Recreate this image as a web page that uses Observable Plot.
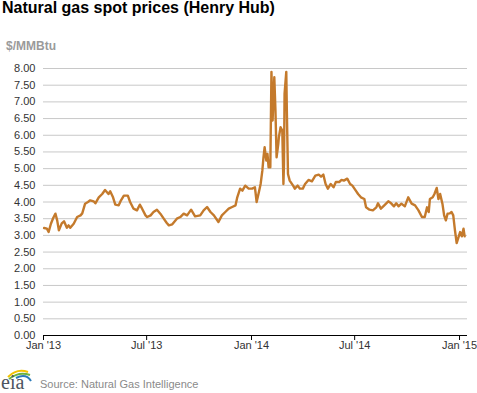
<!DOCTYPE html>
<html>
<head>
<meta charset="utf-8">
<script src="https://cdn.jsdelivr.net/npm/d3@7"></script>
<script src="https://cdn.jsdelivr.net/npm/@observablehq/plot@0.6"></script>
<style>
  html, body { margin: 0; padding: 0; background: #fff; }
  #wrap { position: relative; width: 477px; height: 393px; overflow: hidden; font-family: "Liberation Sans", Arial, sans-serif; }
  #title { position: absolute; left: 2px; top: 0px; font-size: 16px; line-height: 16px; font-weight: bold; color: #000; white-space: nowrap; }
  #units { position: absolute; left: 6px; top: 40px; font-size: 12px; line-height: 12px; font-weight: bold; color: #9a9a9a; }
  #chart { position: absolute; left: 0; top: 0; }
  #logo { position: absolute; left: 0; top: 366px; }
  #source { position: absolute; left: 40px; top: 379px; font-size: 11px; line-height: 11px; color: #8a8a8a; white-space: nowrap; }
</style>
</head>
<body>
<div id="wrap">
  <div id="chart"></div>
  <div id="title">Natural gas spot prices (Henry Hub)</div>
  <div id="units">$/MMBtu</div>
  <svg id="logo" width="36" height="27" viewBox="0 0 36 27">
    <path d="M8,11 Q17,2 28,6" fill="none" stroke="#f2c200" stroke-width="2"/>
    <path d="M9,13 Q19,5 30,9" fill="none" stroke="#6db33f" stroke-width="2"/>
    <path d="M16,12 Q26,7 31,15" fill="none" stroke="#2b7bb9" stroke-width="2"/>
    <text x="1" y="23" font-family="Liberation Serif, serif" font-size="20" fill="#4d5560">eia</text>
  </svg>
  <div id="source">Source: Natural Gas Intelligence</div>
</div>
<script>
const dates = [
  "2013-01-02","2013-01-07","2013-01-10","2013-01-14","2013-01-18","2013-01-22","2013-01-25","2013-01-28",
  "2013-02-02","2013-02-06","2013-02-11","2013-02-14","2013-02-17","2013-02-23",
  "2013-03-01","2013-03-07","2013-03-10","2013-03-15","2013-03-20","2013-03-24","2013-03-30",
  "2013-04-02","2013-04-08","2013-04-14","2013-04-19","2013-04-25","2013-04-28",
  "2013-05-03","2013-05-07","2013-05-13","2013-05-17","2013-05-22","2013-05-29",
  "2013-06-02","2013-06-08","2013-06-14","2013-06-19","2013-06-23","2013-06-29",
  "2013-07-02","2013-07-08","2013-07-13","2013-07-19","2013-07-25","2013-07-31",
  "2013-08-05","2013-08-09","2013-08-15","2013-08-23","2013-08-29",
  "2013-09-04","2013-09-10","2013-09-17","2013-09-24",
  "2013-10-03","2013-10-09","2013-10-15","2013-10-21","2013-10-27",
  "2013-11-04","2013-11-10","2013-11-16","2013-11-22","2013-11-28",
  "2013-12-04","2013-12-07","2013-12-12","2013-12-16","2013-12-21","2013-12-27",
  "2014-01-02","2014-01-07","2014-01-10","2014-01-14","2014-01-17","2014-01-20","2014-01-22","2014-01-24","2014-01-27","2014-01-29","2014-01-31",
  "2014-02-03","2014-02-05","2014-02-07","2014-02-10","2014-02-12","2014-02-14","2014-02-17","2014-02-18","2014-02-21","2014-02-24","2014-02-25","2014-02-26","2014-02-27","2014-02-28",
  "2014-03-03","2014-03-04","2014-03-06","2014-03-09","2014-03-15","2014-03-18","2014-03-23","2014-03-27",
  "2014-04-01","2014-04-05","2014-04-11","2014-04-17","2014-04-23","2014-04-29",
  "2014-05-03","2014-05-07","2014-05-11","2014-05-15","2014-05-20","2014-05-25","2014-05-29",
  "2014-06-04","2014-06-08","2014-06-12","2014-06-18","2014-06-23","2014-06-27",
  "2014-07-03","2014-07-07","2014-07-12","2014-07-18","2014-07-21","2014-07-27",
  "2014-08-02","2014-08-08","2014-08-11","2014-08-16","2014-08-22","2014-08-29",
  "2014-09-03","2014-09-08","2014-09-12","2014-09-16","2014-09-21","2014-09-27",
  "2014-10-03","2014-10-09","2014-10-15","2014-10-21","2014-10-27",
  "2014-11-01","2014-11-05","2014-11-08","2014-11-10","2014-11-15","2014-11-18","2014-11-22","2014-11-25","2014-11-28",
  "2014-12-02","2014-12-05","2014-12-08","2014-12-11","2014-12-15","2014-12-18","2014-12-21","2014-12-24","2014-12-27","2014-12-30",
  "2015-01-02","2015-01-05","2015-01-08","2015-01-10"
];
const prices = [
  3.22,3.20,3.10,3.35,3.52,3.65,3.45,3.15,
  3.36,3.42,3.23,3.30,3.23,3.35,
  3.55,3.60,3.66,3.95,4.00,4.05,4.02,
  3.96,4.14,4.24,4.36,4.24,4.32,
  4.14,3.92,3.90,4.05,4.19,4.19,
  4.00,3.80,3.75,3.92,3.80,3.60,
  3.55,3.60,3.70,3.77,3.65,3.50,
  3.38,3.30,3.33,3.50,3.55,
  3.65,3.60,3.77,3.57,
  3.60,3.75,3.85,3.70,3.60,
  3.40,3.60,3.70,3.80,3.85,
  3.90,4.14,4.40,4.34,4.49,4.40,
  4.40,4.44,4.00,4.30,4.54,4.94,5.34,5.64,5.24,5.44,5.04,
  5.04,7.90,6.44,7.74,6.74,5.34,5.74,5.94,6.24,6.14,5.34,4.54,5.14,7.24,
  7.90,6.74,4.84,4.64,4.49,4.40,4.49,4.40,
  4.40,4.54,4.66,4.62,4.79,4.82,
  4.76,4.82,4.54,4.40,4.54,4.44,4.60,
  4.60,4.66,4.64,4.70,4.54,4.49,
  4.34,4.24,4.14,4.09,3.84,3.77,
  3.75,3.84,3.96,3.80,3.90,4.02,
  3.96,3.87,3.96,3.87,3.95,3.87,
  4.14,3.95,3.90,3.75,3.55,
  3.55,3.84,3.70,4.09,4.14,4.24,4.42,4.09,4.24,
  3.95,3.60,3.45,3.65,3.66,3.70,3.60,3.15,2.77,2.93,
  3.10,2.97,3.20,2.97
];
const yTicks = [0, 0.5, 1, 1.5, 2, 2.5, 3, 3.5, 4, 4.5, 5, 5.5, 6, 6.5, 7, 7.5, 8];
const xTickDates = ["2013-01-01", "2013-07-01", "2014-01-01", "2014-07-01", "2015-01-01"];
const xDomain = ["2013-01-01", "2015-01-15"];

const data = dates.map((d, i) => ({date: new Date(d), price: prices[i]}));
const xTicks = xTickDates.map(d => new Date(d));

const chart = Plot.plot({
  width: 477,
  height: 360,
  marginLeft: 43,
  marginRight: 10,
  marginTop: 68,
  marginBottom: 25,
  style: {fontFamily: "'Liberation Sans', Arial, sans-serif", fontSize: "11px", color: "#333", background: "transparent"},
  x: {type: "utc", domain: xDomain.map(d => new Date(d))},
  y: {domain: [0, 8]},
  marks: [
    Plot.gridY(yTicks, {stroke: "#c8c8c8", strokeOpacity: 1}),
    Plot.axisY(yTicks, {tickSize: 0, tickPadding: 8, tickFormat: d => d.toFixed(2), label: null}),
    Plot.axisX(xTicks, {tickSize: 5, tickPadding: 1, tickFormat: d3.utcFormat("%b '%y"), label: null, stroke: "#000"}),
    Plot.ruleY([0], {stroke: "#000", strokeWidth: 1}),
    Plot.line(data, {x: "date", y: "price", stroke: "#c47a2c", strokeWidth: 2.4})
  ]
});
document.getElementById("chart").appendChild(chart);
</script>
</body>
</html>
